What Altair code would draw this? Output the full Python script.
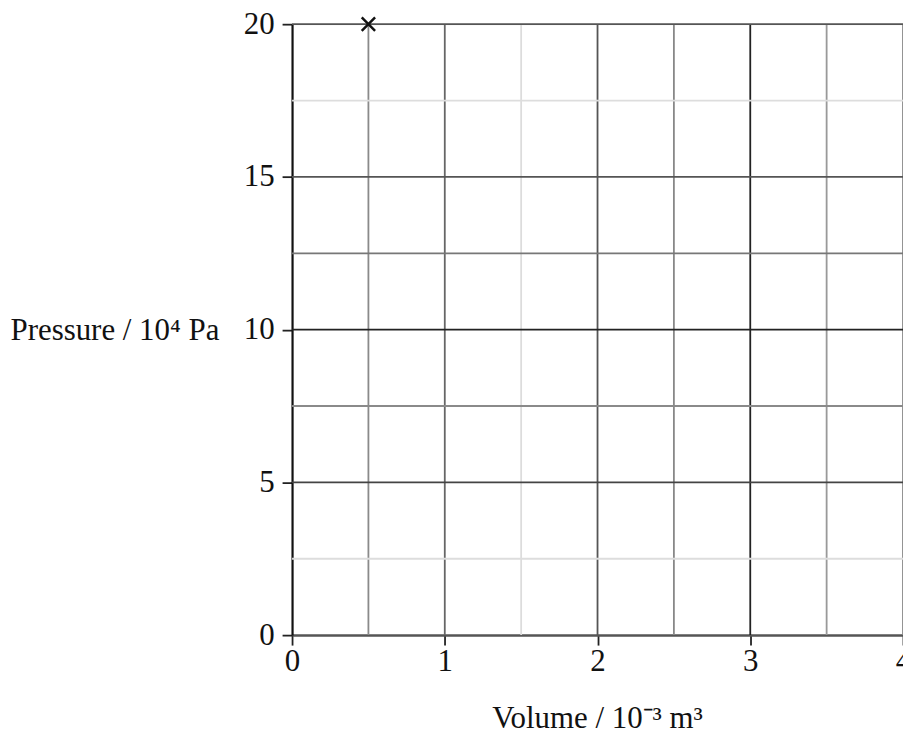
import altair as alt
import pandas as pd

# data
point_volume = [0.5]
point_pressure = [20]
x_ticks = [0, 1, 2, 3, 4]
y_ticks = [0, 5, 10, 15, 20]
vgrid = [0.5, 1, 1.5, 2, 2.5, 3, 3.5, 4]
hgrid = [2.5, 5, 7.5, 10, 12.5, 15, 17.5, 20]

# styles (grid line shading as in the scanned original)
vshade = {0.5: "#8a8a8a", 1: "#666666", 1.5: "#dcdcdc", 2: "#555555",
          2.5: "#888888", 3: "#222222", 3.5: "#999999", 4: "#888888"}
hshade = {2.5: "#dddddd", 5: "#444444", 7.5: "#8a8a8a", 10: "#222222",
          12.5: "#777777", 15: "#555555", 17.5: "#dddddd", 20: "#555555"}

FONT = "Liberation Serif"
FS = 31

xs = alt.Scale(domain=[0, 4], nice=False, zero=False)
ys = alt.Scale(domain=[0, 20], nice=False, zero=False)

vdf = pd.DataFrame({"v": vgrid, "c": [vshade[v] for v in vgrid]})
hdf = pd.DataFrame({"p": hgrid, "c": [hshade[p] for p in hgrid]})
pdf = pd.DataFrame({"v": point_volume, "p": point_pressure})

vlines = alt.Chart(vdf).mark_rule(strokeWidth=1.8).encode(
    x=alt.X("v:Q", scale=xs),
    color=alt.Color("c:N", scale=None),
)
hlines = alt.Chart(hdf).mark_rule(strokeWidth=1.8).encode(
    y=alt.Y("p:Q", scale=ys),
    color=alt.Color("c:N", scale=None),
)

pts = alt.Chart(pdf).mark_point(
    shape="M-1,-1L1,1M-1,1L1,-1", size=180, strokeWidth=2.5,
    color="#111111", filled=False, opacity=1,
).encode(
    x=alt.X("v:Q", scale=xs, axis=alt.Axis(
        values=x_ticks, format="d", title="Volume / 10⁻³ m³", grid=False,
        domainColor="#555555", domainWidth=2.5, tickColor="#222222",
        tickWidth=1.8, tickSize=10, labelPadding=2, labelFont=FONT,
        labelFontSize=FS, labelColor="#111111", titleFont=FONT,
        titleFontSize=FS, titleFontWeight="normal", titleColor="#111111",
        titleX=306, titleY=84, titleBaseline="middle", titleAlign="center",
        labelFlush=False)),
    y=alt.Y("p:Q", scale=ys, axis=alt.Axis(
        values=y_ticks, format="d", title="Pressure / 10⁴ Pa", grid=False,
        domainColor="#111111", domainWidth=2.2, tickColor="#222222",
        tickWidth=1.8, tickSize=10, labelPadding=8, labelFont=FONT,
        labelFontSize=FS, labelColor="#111111", titleFont=FONT,
        titleFontSize=FS, titleFontWeight="normal", titleColor="#111111",
        titleAngle=0, titleX=-283, titleY=307, titleAlign="left",
        titleBaseline="middle", labelFlush=False)),
)

chart = alt.layer(vlines, hlines, pts).properties(
    width=613, height=613,
    autosize=alt.AutoSizeParams(type="none"),
    padding={"left": 285, "top": 15, "right": 0, "bottom": 100},
).configure_view(stroke=None).configure(background="white")

chart.save("out.html", embed_options={"renderer": "svg", "actions": False})
